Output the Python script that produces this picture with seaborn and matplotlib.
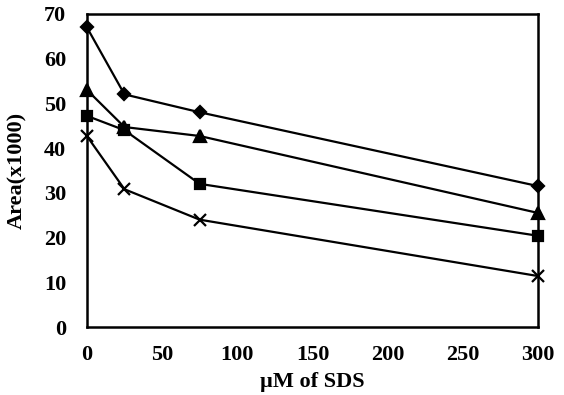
import matplotlib
matplotlib.use("Agg")
import matplotlib.pyplot as plt
import seaborn as sns
import pandas as pd

sds = [0, 25, 75, 300]
diamond = [67, 52, 48, 31.5]
triangle = [53, 44.7, 42.7, 25.5]
square = [47.2, 44, 32, 20.4]
cross = [42.7, 30.8, 24, 11.4]

series = {"diamond": diamond, "triangle": triangle, "square": square, "cross": cross}
markers = {"diamond": "D", "triangle": "^", "square": "s", "cross": "x"}
sizes = {"diamond": 6.5, "triangle": 8, "square": 7.5, "cross": 9}

df = pd.DataFrame([(k, x, y) for k, vals in series.items() for x, y in zip(sds, vals)],
                  columns=["series", "sds", "area"])

sns.set_style("white")
plt.rcParams["font.family"] = ["Liberation Serif", "DejaVu Serif"]
plt.rcParams["font.weight"] = "bold"

fig = plt.figure(figsize=(5.64, 3.95), dpi=100)
ax = fig.add_axes([0.154, 0.172, 0.8, 0.793])

for name in series:
    sub = df[df["series"] == name]
    sns.lineplot(data=sub, x="sds", y="area", ax=ax, color="black", linewidth=1.6,
                 marker=markers[name], markersize=sizes[name], markeredgewidth=1.6,
                 markeredgecolor="black", markerfacecolor="black", legend=False,
                 clip_on=False, zorder=3)

ax.set_xlim(0, 300)
ax.set_ylim(0, 70)
ax.set_xticks(range(0, 301, 50))
ax.set_yticks(range(0, 71, 10))
ax.tick_params(axis="both", direction="in", length=4, width=1, labelsize=16,
               colors="black", labelcolor="black")
ax.tick_params(axis="x", pad=13)
ax.tick_params(axis="y", pad=15)
for lbl in ax.get_xticklabels() + ax.get_yticklabels():
    lbl.set_fontweight("bold")
for sp in ax.spines.values():
    sp.set_color("black")
    sp.set_linewidth(1.8)
ax.set_xlabel("\u00b5M of SDS", fontsize=16, fontweight="bold", labelpad=5, color="black")
ax.set_ylabel("Area(x1000)", fontsize=16, fontweight="bold", labelpad=12, color="black")

fig.savefig("out.png", dpi=100)
